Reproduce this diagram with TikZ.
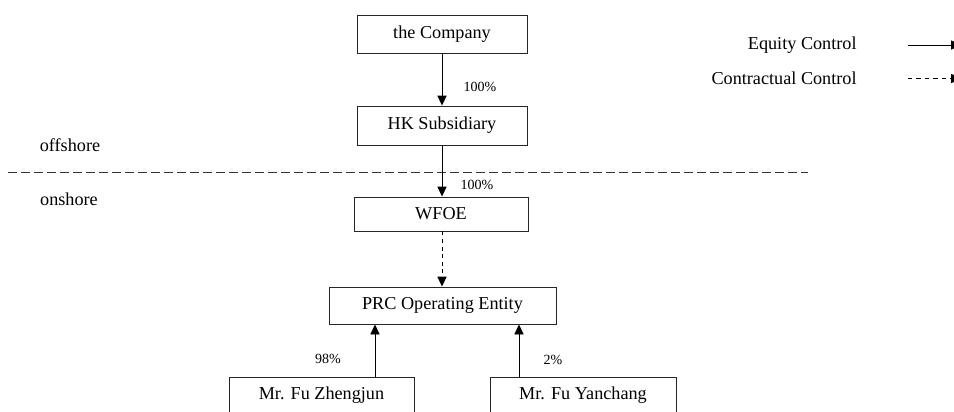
\documentclass[tikz,border=0pt]{standalone}
\usepackage{fontspec}
\setmainfont{Liberation Serif}
\usetikzlibrary{arrows.meta,calc}
\tikzset{
  box/.style={draw=black!85, line width=0.45pt, inner sep=0pt, font=\fontsize{9.1}{11}\selectfont},
  conn/.style={line width=0.45pt, -{Triangle[length=5pt,width=4.6pt]}},
  dconn/.style={conn, dash pattern=on 2pt off 1.8pt},
  pct/.style={font=\fontsize{7}{8}\selectfont, inner sep=0pt},
  lbl/.style={font=\fontsize{9.1}{11}\selectfont, inner sep=0pt},
  sep/.style={line width=0.5pt, black!80, dash pattern=on 4.5pt off 2pt}
}
\begin{document}
\begin{tikzpicture}[x=0.5pt,y=-0.5pt]
\clip (0,0) rectangle (954,412);
\fill[white] (0,0) rectangle (954,412);
% boxes
\node[box, minimum width=85pt, minimum height=19pt] (comp) at (442,34) {the Company};
\node[box, minimum width=85pt, minimum height=19.5pt] (hk) at (442,125.5) {HK Subsidiary};
\node[box, minimum width=87pt, minimum height=17pt] (wfoe) at (441,214) {WFOE};
\node[box, minimum width=113.5pt, minimum height=18.5pt] (prc) at (442.5,305.5) {PRC Operating Entity};
\node[box, minimum width=92.5pt, minimum height=18.5pt] (zj) at (321.5,395.5) {Mr. Fu Zhengjun};
\node[box, minimum width=93pt, minimum height=18.5pt] (yc) at (583,395.5) {Mr. Fu Yanchang};
% region labels
\node[lbl] (off) at (70,145) {offshore};
\node[lbl] (on) at (69,199) {onshore};
\coordinate (sepL) at (8,172);
\coordinate (sepR) at (808,172);
\draw[sep] (sepL) -- (sepR);
% connectors
\draw[conn] (comp.south -| 442,0) -- (hk.north -| 442,0);
\draw[conn] (hk.south -| 442,0) -- (wfoe.north -| 442,0);
\draw[dconn] (wfoe.south -| 442,0) -- (prc.north -| 442,0);
\coordinate (lx) at (375,0);
\coordinate (rx) at (519,0);
\draw[conn] (zj.north -| lx) -- (prc.south -| lx);
\draw[conn] (yc.north -| rx) -- (prc.south -| rx);
% percentages
\node[pct] (p1) at (480,87) {100\%};
\node[pct] (p2) at (477,185) {100\%};
\node[pct] (p3) at (328,359) {98\%};
\node[pct] (p4) at (553,360) {2\%};
% legend
\node[lbl, anchor=east] (eq) at (857,45) {Equity Control};
\node[lbl, anchor=east] (ct) at (857,78) {Contractual Control};
\coordinate (eqA) at (908,45);
\coordinate (eqB) at (961,45);
\coordinate (ctA) at (908,78.5);
\coordinate (ctB) at (961,78.5);
\draw[conn] (eqA) -- (eqB);
\draw[conn, dash pattern=on 2.2pt off 2pt] (ctA) -- (ctB);
\end{tikzpicture}
\end{document}
